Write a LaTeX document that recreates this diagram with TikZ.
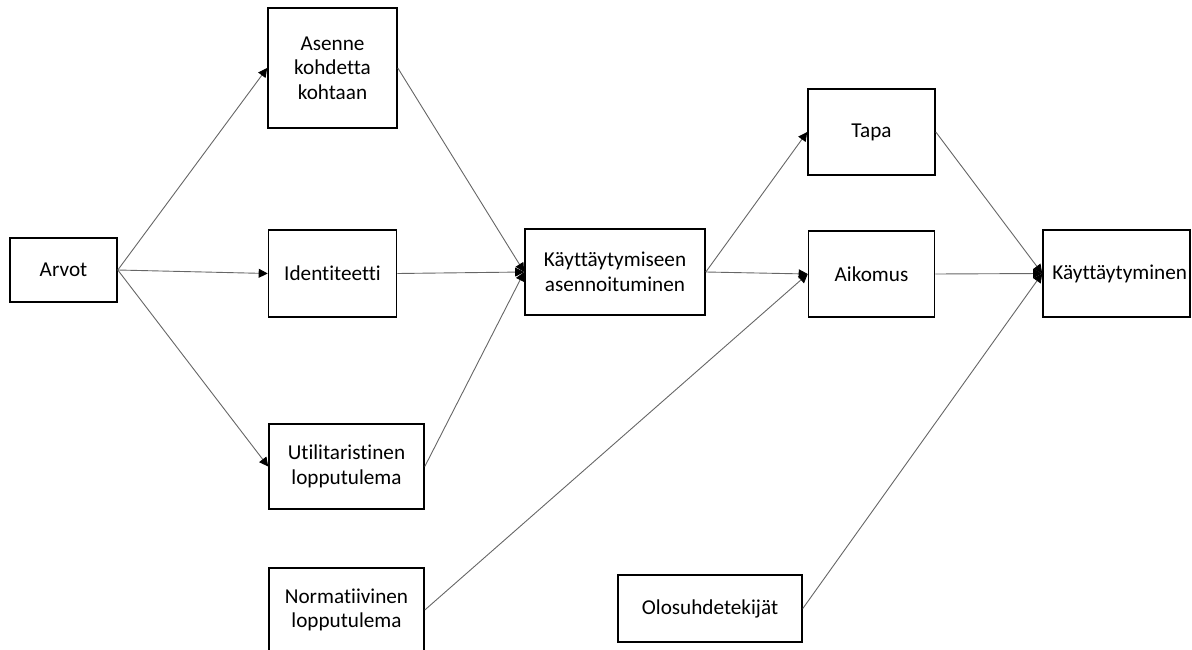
\documentclass[tikz,border=0pt]{standalone}
\usepackage{fontspec}
\setmainfont[Ligatures=NoCommon]{Carlito}
\usetikzlibrary{arrows.meta}
\begin{document}
\begin{tikzpicture}[x=1pt,y=-1pt,
  txt/.style={font=\fontsize{21.2}{24.5}\selectfont},
  box/.style={draw=black, line width=1.6pt, fill=white, inner sep=0pt, align=center, txt},
  conn/.style={draw=black!60, line width=0.9pt, -{Triangle[length=9pt,width=9pt,fill=black,color=black]}}]
\useasboundingbox (0,0) rectangle (1192,650);
\clip (0,0) rectangle (1192,650);
\node[box, minimum width=107pt, minimum height=64pt] (ar) at (63.5,270) {Arvot};
\node[box, minimum width=129pt, minimum height=120pt] (as) at (332.5,68) {Asenne\\kohdetta\\kohtaan};
\node[box, minimum width=128pt, minimum height=87pt] (id) at (332.5,273.5) {Identiteetti};
\node[box, minimum width=155pt, minimum height=85pt] (ut) at (346.5,466.5) {Utilitaristinen\\lopputulema};
\node[box, minimum width=155pt, minimum height=84pt] (no) at (346.5,610) {Normatiivinen\\lopputulema};
\node[box, minimum width=180pt, minimum height=86pt] (k) at (615,272) {Käyttäytymiseen\\asennoituminen};
\node[box, minimum width=127pt, minimum height=86pt] (ta) at (871.5,132) {Tapa};
\node[box, minimum width=126pt, minimum height=86pt] (ai) at (871.5,274) {Aikomus};
\node[box, minimum width=147pt, minimum height=87pt,
  label={[anchor=west, inner sep=0pt, txt, xshift=10pt]west:Käyttäytyminen}] (kb) at (1116.5,273.5) {};
\node[box, minimum width=184pt, minimum height=67pt] (ol) at (710,608.5) {Olosuhdetekijät};
\draw[conn] (ar.east) -- (as.west);
\draw[conn] (ar.east) -- (id.west);
\draw[conn] (ar.east) -- (ut.west);
\draw[conn] (as.east) -- (k.west);
\draw[conn] (id.east) -- (k.west);
\draw[conn] (ut.east) -- (k.west);
\draw[conn] (k.east) -- (ta.west);
\draw[conn] (k.east) -- (ai.west);
\draw[conn] (no.east) -- (ai.west);
\draw[conn] (ta.east) -- (kb.west);
\draw[conn] (ai.east) -- (kb.west);
\draw[conn] (ol.east) -- (kb.west);
\end{tikzpicture}
\end{document}
